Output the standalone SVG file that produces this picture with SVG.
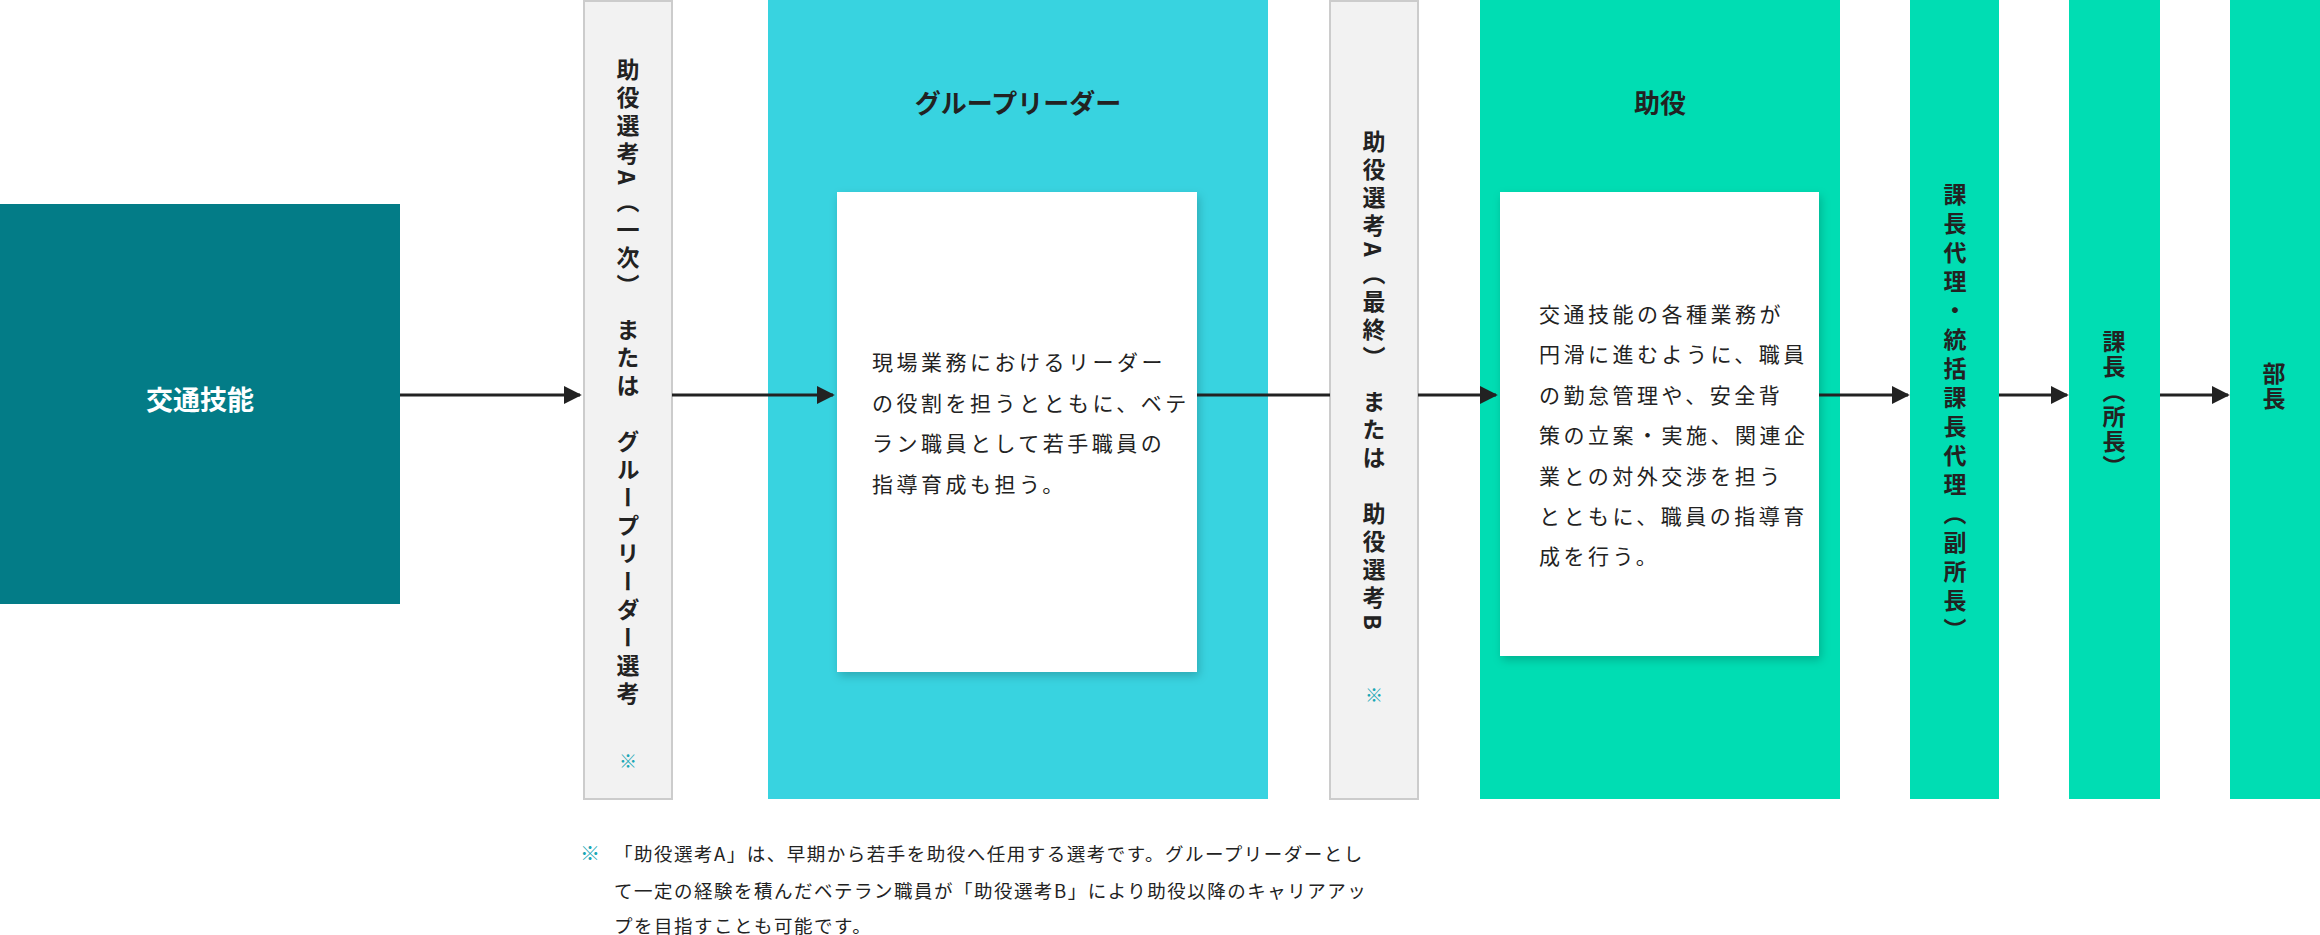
<svg xmlns="http://www.w3.org/2000/svg" width="2320" height="935" viewBox="0 0 2320 935">
<style>
text{font-family:"Noto Sans CJK JP","Noto Sans",sans-serif;fill:#222}
.v{writing-mode:vertical-rl;font-size:23px;font-weight:bold;letter-spacing:5px}
.b{font-size:21px;letter-spacing:3.5px}
.t{font-size:26px;font-weight:bold;text-anchor:middle}
.n{font-size:18.5px;letter-spacing:1.5px}
.k{fill:#1aa7b5}
.gray{fill:#f2f2f2;stroke:#cccccc;stroke-width:2}
.grn{fill:#00ddb3}
.card{fill:#fff;filter:url(#sh)}
.ar{stroke:#222;stroke-width:3;fill:none}
</style>
<defs>
<marker id="ah" viewBox="0 0 10 10" refX="9" refY="5" markerWidth="6" markerHeight="6" markerUnits="strokeWidth" orient="auto"><path d="M0 0L10 5L0 10z" fill="#222"/></marker>
<filter id="sh" x="-10%" y="-10%" width="130%" height="130%"><feDropShadow dx="2" dy="4" stdDeviation="5" flood-color="#000" flood-opacity="0.2"/></filter>
</defs>
<g id="n1"><rect x="0" y="204" width="400" height="400" fill="#037c87"/><text x="200" y="410" class="t" style="fill:#fff;font-size:27px">交通技能</text></g>
<g id="n2"><rect x="584" y="1" width="88" height="798" class="gray"/><text x="628" y="58" class="v">助役選考A（一次）　または　グループリーダー選考</text><text x="628" y="752" class="v k" style="font-size:18px;font-weight:normal">※</text></g>
<g id="n3"><rect x="768" y="0" width="500" height="799" fill="#38d3e0"/><text x="1018" y="113" class="t">グループリーダー</text><rect x="837" y="192" width="360" height="480" class="card"/>
<text class="b"><tspan x="872" y="370">現場業務におけるリーダー</tspan><tspan x="872" y="411">の役割を担うとともに、ベテ</tspan><tspan x="872" y="451">ラン職員として若手職員の</tspan><tspan x="872" y="492">指導育成も担う。</tspan></text></g>
<g id="n4"><rect x="1330" y="1" width="88" height="798" class="gray"/><text x="1374" y="130" class="v">助役選考A（最終）　または　助役選考B</text><text x="1374" y="686" class="v k" style="font-size:18px;font-weight:normal">※</text></g>
<g id="n5"><rect x="1480" y="0" width="360" height="799" class="grn"/><text x="1660" y="113" class="t">助役</text><rect x="1500" y="192" width="319" height="464" class="card"/>
<text class="b"><tspan x="1539" y="322">交通技能の各種業務が</tspan><tspan x="1539" y="362">円滑に進むように、職員</tspan><tspan x="1539" y="403">の勤怠管理や、安全背</tspan><tspan x="1539" y="443">策の立案・実施、関連企</tspan><tspan x="1539" y="484">業との対外交渉を担う</tspan><tspan x="1539" y="524">とともに、職員の指導育</tspan><tspan x="1539" y="564">成を行う。</tspan></text></g>
<g id="n6"><rect x="1910" y="0" width="89" height="799" class="grn"/><text x="1955" y="183" class="v" style="letter-spacing:6px">課長代理・統括課長代理（副所長）</text></g>
<g id="n7"><rect x="2069" y="0" width="91" height="799" class="grn"/><text x="2114" y="330" class="v" style="letter-spacing:2px">課長（所長）</text></g>
<g id="n8"><rect x="2230" y="0" width="90" height="799" class="grn"/><text x="2274" y="362" class="v" style="letter-spacing:2px">部長</text></g>
<g id="edges">
<line x1="400" y1="395" x2="580" y2="395" class="ar" marker-end="url(#ah)"/>
<line x1="672" y1="395" x2="833" y2="395" class="ar" marker-end="url(#ah)"/>
<line x1="1197" y1="395" x2="1330" y2="395" class="ar"/>
<line x1="1418" y1="395" x2="1496" y2="395" class="ar" marker-end="url(#ah)"/>
<line x1="1819" y1="395" x2="1908" y2="395" class="ar" marker-end="url(#ah)"/>
<line x1="1999" y1="395" x2="2067" y2="395" class="ar" marker-end="url(#ah)"/>
<line x1="2160" y1="395" x2="2228" y2="395" class="ar" marker-end="url(#ah)"/>
</g>
<g id="note"><text x="580" y="861" class="n k" style="font-size:20px">※</text>
<text class="n"><tspan x="614" y="861">「助役選考A」は、早期から若手を助役へ任用する選考です。グループリーダーとし</tspan><tspan x="614" y="898">て一定の経験を積んだベテラン職員が「助役選考B」により助役以降のキャリアアッ</tspan><tspan x="614" y="933">プを目指すことも可能です。</tspan></text></g>
</svg>
